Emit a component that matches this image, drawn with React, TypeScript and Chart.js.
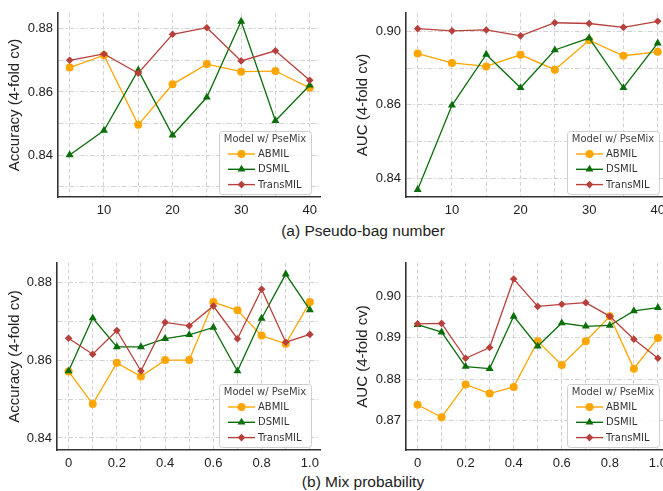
import React, { useEffect, useRef } from 'react';
import { Chart, registerables } from 'chart.js';

Chart.register(...registerables);

// ---------- data ----------
const seriesNames = ['ABMIL', 'DSMIL', 'TransMIL'];
const legendTitle = 'Model w/ PseMix';

const bagNumbers = [5, 10, 15, 20, 25, 30, 35, 40];
const accBagABMIL = [0.8677, 0.8716, 0.8496, 0.8624, 0.8688, 0.8664, 0.8666, 0.8613];
const accBagDSMIL = [0.8401, 0.8478, 0.8669, 0.8463, 0.8583, 0.8823, 0.8509, 0.8621];
const accBagTransMIL = [0.87, 0.872, 0.8659, 0.8782, 0.8803, 0.8698, 0.873, 0.8637];

const aucBagABMIL = [0.8879, 0.8828, 0.8809, 0.8872, 0.8791, 0.8951, 0.8867, 0.8888];
const aucBagDSMIL = [0.814, 0.8598, 0.8874, 0.8693, 0.8898, 0.8963, 0.8693, 0.8935];
const aucBagTransMIL = [0.9014, 0.9002, 0.9007, 0.8975, 0.9046, 0.9042, 0.9021, 0.9054];

const mixProbs = [0, 0.1, 0.2, 0.3, 0.4, 0.5, 0.6, 0.7, 0.8, 0.9, 1.0];
const accMixABMIL = [0.8571, 0.8487, 0.8593, 0.8558, 0.86, 0.86, 0.8749, 0.8728, 0.8663, 0.8642, 0.8749];
const accMixDSMIL = [0.8572, 0.8708, 0.8634, 0.8634, 0.8655, 0.8665, 0.8684, 0.8572, 0.8707, 0.8821, 0.8729];
const accMixTransMIL = [0.8656, 0.8615, 0.8676, 0.8572, 0.8697, 0.8688, 0.8739, 0.8655, 0.8782, 0.8646, 0.8666];

const aucMixABMIL = [0.8738, 0.8708, 0.8787, 0.8765, 0.8781, 0.8891, 0.8834, 0.8891, 0.8951, 0.8825, 0.8899];
const aucMixDSMIL = [0.8931, 0.8913, 0.883, 0.8825, 0.8951, 0.8879, 0.8935, 0.8927, 0.8929, 0.8964, 0.8972];
const aucMixTransMIL = [0.8933, 0.8934, 0.885, 0.8876, 0.9041, 0.8975, 0.898, 0.8984, 0.8951, 0.8896, 0.885];

// tick positions (grid lines) and their labels
const bagXGrid = [5, 10, 15, 20, 25, 30, 35, 40];
const bagXLabels = ['', '10', '', '20', '', '30', '', '40'];
const mixXGrid = [0, 0.1, 0.2, 0.3, 0.4, 0.5, 0.6, 0.7, 0.8, 0.9, 1.0];
const mixXLabels = ['0', '', '0.2', '', '0.4', '', '0.6', '', '0.8', '', '1.0'];

const accBagYGrid = [0.83, 0.84, 0.85, 0.86, 0.87, 0.88];
const accBagYLabels = ['', '0.84', '', '0.86', '', '0.88'];
const aucBagYGrid = [0.82, 0.84, 0.86, 0.88, 0.9];
const aucBagYLabels = ['0.84', '', '0.86', '', '0.90'];
const accMixYGrid = [0.84, 0.85, 0.86, 0.87, 0.88];
const accMixYLabels = ['0.84', '', '0.86', '', '0.88'];
const aucMixYGrid = [0.87, 0.88, 0.89, 0.9];
const aucMixYLabels = ['0.87', '0.88', '0.89', '0.90'];

const captionA = '(a) Pseudo-bag number';
const captionB = '(b) Mix probability';

// ---------- styles ----------
const colors = ['#ffa500', '#0a6e0a', '#b8403c'];
const markers = ['circle', 'triangle', 'rectRot'];
const markerRadius = [4, 4.6, 3.8];
const FONT = '"Liberation Sans", Arial, Helvetica, sans-serif';
const LEGEND_FONT = '"DejaVu Sans", Verdana, sans-serif';

type Panel = {
  left: number; top: number; width: number; height: number;
  yAxisWidth: number; xAxisHeight: number; padTop: number; padRight: number;
  xs: number[]; series: number[][];
  xMin: number; xMax: number; xGrid: number[]; xLabels: string[];
  yMin: number; yMax: number; yGrid: number[]; yLabels: string[];
  yTitle: string;
};

const panels: Panel[] = [
  {
    left: 0, top: 0, width: 330, height: 222, yAxisWidth: 58, xAxisHeight: 25, padTop: 7, padRight: 10,
    xs: bagNumbers, series: [accBagABMIL, accBagDSMIL, accBagTransMIL],
    xMin: 3.3, xMax: 41.5, xGrid: bagXGrid, xLabels: bagXLabels,
    yMin: 0.8268, yMax: 0.885, yGrid: accBagYGrid, yLabels: accBagYLabels,
    yTitle: 'Accuracy (4-fold cv)',
  },
  {
    left: 348, top: 0, width: 330, height: 222, yAxisWidth: 58, xAxisHeight: 25, padTop: 7, padRight: 10,
    xs: bagNumbers, series: [aucBagABMIL, aucBagDSMIL, aucBagTransMIL],
    xMin: 3.3, xMax: 41.5, xGrid: bagXGrid, xLabels: bagXLabels,
    yMin: 0.81, yMax: 0.91, yGrid: aucBagYGrid, yLabels: aucBagYLabels,
    yTitle: 'AUC (4-fold cv)',
  },
  {
    left: 0, top: 250, width: 330, height: 222, yAxisWidth: 57, xAxisHeight: 22, padTop: 9, padRight: 10,
    xs: mixProbs, series: [accMixABMIL, accMixDSMIL, accMixTransMIL],
    xMin: -0.048, xMax: 1.042, xGrid: mixXGrid, xLabels: mixXLabels,
    yMin: 0.8369, yMax: 0.885, yGrid: accMixYGrid, yLabels: accMixYLabels,
    yTitle: 'Accuracy (4-fold cv)',
  },
  {
    left: 348, top: 250, width: 330, height: 222, yAxisWidth: 58, xAxisHeight: 22, padTop: 9, padRight: 10,
    xs: mixProbs, series: [aucMixABMIL, aucMixDSMIL, aucMixTransMIL],
    xMin: -0.048, xMax: 1.042, xGrid: mixXGrid, xLabels: mixXLabels,
    yMin: 0.8629, yMax: 0.908, yGrid: aucMixYGrid, yLabels: aucMixYLabels,
    yTitle: 'AUC (4-fold cv)',
  },
];

function drawMarker(ctx: CanvasRenderingContext2D, kind: string, x: number, y: number, r: number, color: string) {
  ctx.fillStyle = color;
  ctx.beginPath();
  if (kind === 'circle') {
    ctx.arc(x, y, r, 0, Math.PI * 2);
  } else if (kind === 'triangle') {
    for (let k = 0; k < 3; k++) {
      const a = -Math.PI / 2 + (k * 2 * Math.PI) / 3;
      const px = x + Math.cos(a) * r;
      const py = y + Math.sin(a) * r;
      if (k === 0) ctx.moveTo(px, py); else ctx.lineTo(px, py);
    }
    ctx.closePath();
  } else {
    ctx.moveTo(x, y - r);
    ctx.lineTo(x + r, y);
    ctx.lineTo(x, y + r);
    ctx.lineTo(x - r, y);
    ctx.closePath();
  }
  ctx.fill();
}

const legendPlugin = {
  id: 'pseLegend',
  afterDraw(chart: any) {
    const { ctx, chartArea } = chart;
    const w = 92;
    const h = 63;
    const right = chartArea.right - 9;
    const bottom = chartArea.bottom - 3;
    const left = right - w;
    const top = bottom - h;
    ctx.save();
    ctx.beginPath();
    if ((ctx as any).roundRect) (ctx as any).roundRect(left + 0.5, top + 0.5, w, h, 3);
    else ctx.rect(left + 0.5, top + 0.5, w, h);
    ctx.fillStyle = 'rgba(255,255,255,0.85)';
    ctx.fill();
    ctx.strokeStyle = '#cfcfcf';
    ctx.lineWidth = 1;
    ctx.stroke();
    ctx.font = `10px ${LEGEND_FONT}`;
    ctx.textBaseline = 'middle';
    ctx.textAlign = 'center';
    ctx.fillStyle = '#444';
    ctx.fillText(legendTitle, left + w / 2, top + 8);
    ctx.textAlign = 'left';
    seriesNames.forEach((name, i) => {
      const y = top + 23 + i * 15.3;
      ctx.strokeStyle = colors[i];
      ctx.lineWidth = 1.4;
      ctx.beginPath();
      ctx.moveTo(left + 9, y);
      ctx.lineTo(left + 36, y);
      ctx.stroke();
      drawMarker(ctx, markers[i], left + 22.5, y, markerRadius[i], colors[i]);
      ctx.fillStyle = '#333';
      ctx.fillText(name, left + 39, y + 0.5);
    });
    ctx.restore();
  },
};

function PanelChart({ p }: { p: Panel }) {
  const ref = useRef<HTMLCanvasElement | null>(null);
  useEffect(() => {
    if (!ref.current) return;
    const chart = new Chart(ref.current, {
      type: 'line',
      data: {
        datasets: p.series.map((vals, i) => ({
          label: seriesNames[i],
          data: vals.map((v, j) => ({ x: p.xs[j], y: v })),
          borderColor: colors[i],
          backgroundColor: colors[i],
          borderWidth: 1.3,
          pointStyle: markers[i] as any,
          pointRadius: markerRadius[i],
          pointBorderWidth: 0,
          pointBackgroundColor: colors[i],
          tension: 0,
          order: 3 - i,
        })),
      },
      options: {
        animation: false,
        responsive: false,
        maintainAspectRatio: false,
        layout: { padding: { top: p.padTop, right: p.padRight, left: 0, bottom: 0 } },
        plugins: { legend: { display: false }, tooltip: { enabled: false } },
        scales: {
          x: {
            type: 'linear',
            min: p.xMin,
            max: p.xMax,
            afterBuildTicks: (scale: any) => { scale.ticks = p.xGrid.map((v) => ({ value: v })); },
            afterFit: (scale: any) => { scale.height = p.xAxisHeight; },
            ticks: {
              autoSkip: false,
              maxRotation: 0,
              padding: 6,
              color: '#222',
              font: { family: FONT, size: 13 },
              callback: (_v: any, idx: number) => p.xLabels[idx],
            },
            grid: { color: '#d2d2d2', lineWidth: 1, drawTicks: false },
            border: { display: true, color: '#333', width: 1.6, dash: [4, 2.5] },
          },
          y: {
            type: 'linear',
            min: p.yMin,
            max: p.yMax,
            afterBuildTicks: (scale: any) => { scale.ticks = p.yGrid.map((v) => ({ value: v })); },
            afterFit: (scale: any) => { scale.width = p.yAxisWidth; },
            ticks: {
              autoSkip: false,
              padding: 5,
              color: '#222',
              font: { family: FONT, size: 13 },
              callback: (_v: any, idx: number) => p.yLabels[idx],
            },
            title: {
              display: true,
              text: p.yTitle,
              color: '#222',
              font: { family: FONT, size: 15 },
              padding: { top: 6, bottom: 0 },
            },
            grid: { color: '#d2d2d2', lineWidth: 1, drawTicks: false },
            border: { display: true, color: '#333', width: 1.6, dash: [5, 2, 1.5, 2] },
          },
        },
      } as any,
      plugins: [legendPlugin],
    });
    return () => chart.destroy();
  }, [p]);
  return (
    <canvas
      ref={ref}
      width={p.width}
      height={p.height}
      style={{ position: 'absolute', left: p.left, top: p.top, width: p.width, height: p.height, display: 'block' }}
    />
  );
}

export default function App() {
  const captionStyle: React.CSSProperties = {
    position: 'absolute',
    left: 0,
    width: 726,
    textAlign: 'center',
    fontFamily: FONT,
    fontSize: 15.5,
    lineHeight: '18px',
    color: '#222',
    whiteSpace: 'nowrap',
  };
  return (
    <div style={{ position: 'fixed', left: 0, top: 0, width: 663, height: 491, overflow: 'hidden', background: '#fff' }}>
      {panels.map((p, i) => (
        <PanelChart key={i} p={p} />
      ))}
      <div style={{ ...captionStyle, top: 221.5 }}>{captionA}</div>
      <div style={{ ...captionStyle, top: 472.5 }}>{captionB}</div>
    </div>
  );
}
